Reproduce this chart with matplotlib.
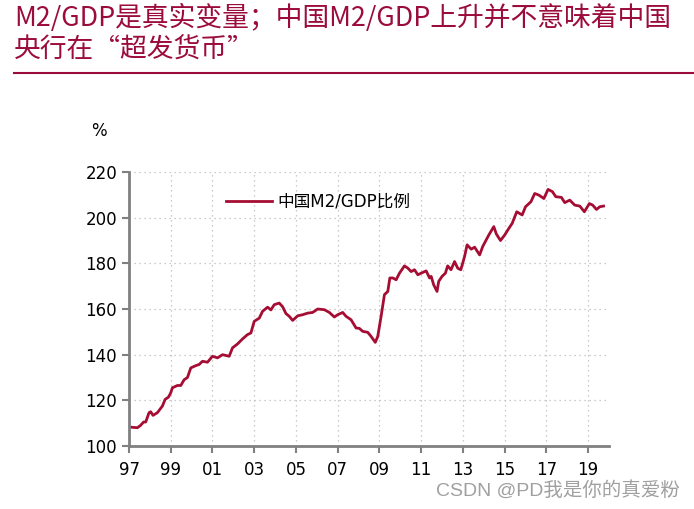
import numpy as np
import matplotlib
matplotlib.use("Agg")
import matplotlib.pyplot as plt
from matplotlib.lines import Line2D

plt.rcParams['font.family'] = ['DejaVu Sans', 'Noto Sans CJK SC']
plt.rcParams['axes.unicode_minus'] = False

# ---------------- 数据 ----------------
years = [1997.0, 1997.4, 1997.55, 1997.7, 1997.8, 1997.96, 1998.04, 1998.15, 1998.36,
         1998.6, 1998.73, 1998.89, 1999.0, 1999.08, 1999.32, 1999.48, 1999.64, 1999.8,
         1999.96, 2000.2, 2000.36, 2000.52, 2000.76, 2001.0, 2001.24, 2001.48, 2001.8,
         2001.96, 2002.2, 2002.44, 2002.68, 2002.84, 2003.0, 2003.24, 2003.4, 2003.64,
         2003.8, 2003.96, 2004.2, 2004.36, 2004.52, 2004.68, 2004.84, 2005.08, 2005.32,
         2005.56, 2005.8, 2006.04, 2006.36, 2006.6, 2006.84, 2007.0, 2007.24, 2007.4,
         2007.64, 2007.88, 2008.04, 2008.2, 2008.44, 2008.6, 2008.8, 2008.92, 2009.08,
         2009.24, 2009.4, 2009.5, 2009.64, 2009.8, 2009.96, 2010.2, 2010.36, 2010.52,
         2010.68, 2010.84, 2011.0, 2011.24, 2011.4, 2011.48, 2011.6, 2011.76, 2011.84,
         2012.0, 2012.16, 2012.27, 2012.43, 2012.6, 2012.75, 2012.9, 2013.08, 2013.2,
         2013.4, 2013.56, 2013.8, 2013.95, 2014.24, 2014.48, 2014.6, 2014.8, 2015.0,
         2015.2, 2015.36, 2015.58, 2015.84, 2016.0, 2016.26, 2016.44, 2016.64, 2016.88,
         2017.08, 2017.29, 2017.45, 2017.72, 2017.88, 2018.12, 2018.36, 2018.6, 2018.82,
         2019.06, 2019.22, 2019.4, 2019.56, 2019.74]
m2_gdp = [108.3, 108.0, 109.0, 110.5, 110.5, 114.6, 115.0, 113.4, 114.6,
          117.5, 120.4, 121.4, 123.3, 125.5, 126.5, 126.5, 129.0, 130.0,
          134.2, 135.2, 135.7, 137.1, 136.7, 139.3, 138.6, 140.0, 139.3,
          143.0, 144.7, 146.9, 148.8, 149.5, 154.6, 156.0, 159.0, 160.8,
          159.6, 161.9, 162.6, 161.0, 158.0, 156.8, 155.0, 157.0, 157.5,
          158.2, 158.5, 160.0, 159.7, 158.5, 156.5, 157.5, 158.5, 156.8,
          155.3, 151.7, 151.5, 150.2, 149.8, 148.0, 145.4, 148.0, 156.8,
          166.3, 167.7, 173.6, 173.6, 172.8, 175.7, 178.9, 177.9, 176.4,
          177.2, 175.0, 175.7, 176.7, 173.6, 174.3, 170.6, 167.7, 172.1,
          174.3, 175.7, 178.9, 177.2, 180.8, 177.9, 177.2, 183.0, 188.1,
          186.2, 187.1, 183.7, 187.4, 192.4, 196.1, 192.9, 190.0, 192.4,
          195.3, 197.5, 202.6, 201.2, 204.8, 207.0, 210.6, 209.9, 208.4,
          212.4, 211.4, 209.2, 208.9, 206.6, 207.7, 205.5, 205.1, 202.6,
          206.2, 205.5, 203.6, 204.8, 205.1]
tick_years = list(range(1997, 2020, 2))
tick_labels = ['97', '99', '01', '03', '05', '07', '09', '11', '13', '15', '17', '19']
y_ticks = [100, 120, 140, 160, 180, 200, 220]

title = 'M2/GDP是真实变量；中国M2/GDP上升并不意味着中国\n央行在“超发货币”'
series_name = '中国M2/GDP比例'

red = '#A50D33'
title_red = '#9B0B3C'
gray = '#808080'

fig = plt.figure(figsize=(6.94, 5.09), dpi=100)
ax = fig.add_axes([0.1859, 0.1238, 0.6916, 0.5382])

ax.plot(years, m2_gdp, color=red, lw=2.0, label=series_name)

ax.set_xlim(1997, 2020)
ax.set_ylim(100, 220)
ax.set_xticks(tick_years)
ax.set_xticklabels(tick_labels)
ax.set_yticks(y_ticks)
ax.tick_params(axis='both', labelsize=12, color=gray, width=1.5, length=5,
               direction='out')
ax.tick_params(axis='x', pad=6)
ax.grid(True, ls=(0, (1, 3)), color='#BBBBBB', lw=0.9)

for s in ['top', 'right']:
    ax.spines[s].set_visible(False)
for s in ['left', 'bottom']:
    ax.spines[s].set_color(gray)
    ax.spines[s].set_linewidth(2)

leg = ax.legend(loc='upper left', bbox_to_anchor=(0.17, 0.98), frameon=False,
                fontsize=12, handlelength=2.8, handletextpad=0.3)

fig.text(91 / 694, 1 - 131 / 509, '%', fontsize=12, ha='left', va='center')

fig.text(14 / 694, 1 - 4 / 509, title, fontsize=19.3, color=title_red,
         ha='left', va='top', linespacing=1.2,
         family=['Noto Sans CJK SC', 'DejaVu Sans'])
fig.add_artist(Line2D([14 / 694, 1.0], [1 - 73 / 509, 1 - 73 / 509],
                      color=title_red, lw=1.5, transform=fig.transFigure))

fig.text(680 / 694, 1 - 490 / 509, 'CSDN @PD我是你的真爱粉', fontsize=14,
         color='#A0A0A0', ha='right', va='center',
         family=['Liberation Sans', 'Noto Sans CJK SC'])

fig.savefig('out.png', dpi=100)
